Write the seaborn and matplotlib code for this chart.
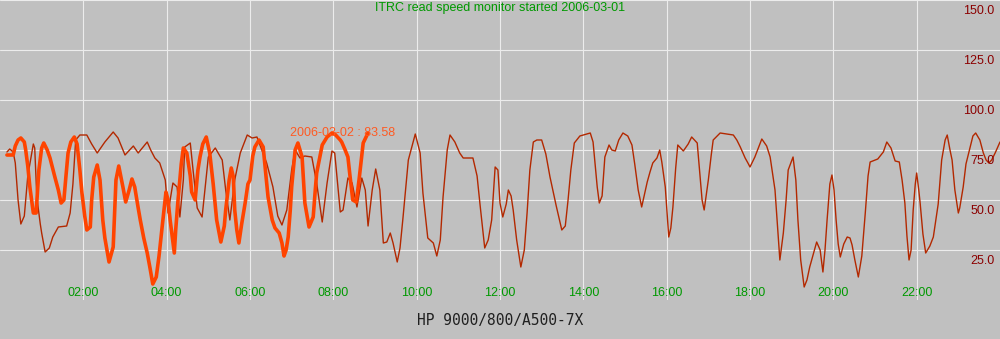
import seaborn as sns
import matplotlib.pyplot as plt
import pandas as pd

# minutes after midnight / read speed
day1_min = [10, 14, 19, 22, 26, 30, 35, 40, 48, 50, 53, 58, 60, 65, 71, 76, 84, 96, 101, 105,
            109, 115, 125, 132, 140, 151, 163, 170, 180, 192, 199, 212, 217, 223, 230, 238, 242, 249, 255, 259,
            264, 266, 274, 278, 284, 291, 295, 300, 310, 320, 325, 331, 338, 346, 356, 363, 370, 377, 384, 393,
            400, 406, 413, 420, 425, 432, 439, 449, 456, 464, 471, 478, 482, 490, 494, 501, 507, 514, 521, 526,
            530, 536, 541, 547, 552, 557, 562, 566, 572, 576, 580, 588, 598, 605, 609, 616, 624, 629, 634, 638,
            644, 648, 655, 662, 667, 681, 687, 691, 698, 703, 708, 713, 717, 720, 724, 729, 732, 736, 739, 744,
            750, 755, 759, 763, 768, 773, 780, 786, 792, 801, 809, 814, 818, 822, 827, 835, 850, 854, 860, 863,
            867, 871, 877, 881, 886, 891, 897, 904, 910, 914, 919, 924, 932, 936, 940, 946, 950, 953, 958, 963,
            966, 969, 973, 976, 984, 991, 996, 1004, 1008, 1011, 1014, 1020, 1024, 1027, 1037, 1056, 1061, 1066, 1073, 1077,
            1080, 1087, 1097, 1104, 1109, 1113, 1116, 1120, 1123, 1128, 1132, 1135, 1142, 1146, 1149, 1153, 1158, 1162, 1166, 1172,
            1176, 1181, 1185, 1188, 1191, 1195, 1198, 1201, 1204, 1207, 1210, 1215, 1220, 1224, 1227, 1231, 1236, 1241, 1246, 1250,
            1253, 1264, 1272, 1277, 1283, 1289, 1295, 1299, 1303, 1306, 1309, 1312, 1315, 1318, 1320, 1323, 1325, 1329, 1333, 1339,
            1344, 1351, 1356, 1361, 1364, 1368, 1371, 1375, 1380, 1382, 1387, 1391, 1397, 1401, 1405, 1411, 1416, 1420, 1424, 1428,
            1433, 1440]
day1_speed = [74, 75.5, 74, 68.5, 50, 38, 42, 62, 78, 76, 51.5, 38, 33.5, 24, 26, 31.5, 36.5, 37, 43.5, 58,
              80, 82.5, 82.5, 78, 73.5, 79, 84, 81, 72.5, 77, 73.5, 79, 75, 71, 68.5, 60, 43.5, 58.5, 56.5, 41.5,
              60, 76.5, 78.5, 65, 46, 41.5, 55, 71.5, 76, 70, 55, 40, 60, 73.5, 82.5, 81, 81.5, 75, 68.5, 56.5,
              42, 37.5, 45, 65, 75, 71, 72, 71.5, 58.5, 39, 58.5, 74.5, 73.5, 44, 45, 61, 58.5, 46.5, 61, 55,
              37, 55, 65.5, 55, 28.5, 29, 33.5, 28.5, 19, 26, 40, 70, 83, 73.5, 53.5, 31, 28.5, 22, 30, 51.5,
              75, 82.5, 79, 73.5, 71, 71, 62, 48.5, 26, 30, 40, 66.5, 65, 48.5, 41.5, 48, 55, 52, 45, 30,
              16.5, 25, 43.5, 65, 79, 80, 80, 73, 61.5, 47, 35, 37, 50, 65, 78.5, 82, 83.5, 79, 56.5, 48.5,
              52, 71.5, 77.5, 75, 74.5, 80, 83.5, 82, 77.5, 68, 55, 46.5, 59, 64, 68.5, 71, 75, 69, 56.5, 31.5,
              36, 46.5, 66, 77.5, 74.5, 78, 81.5, 78.5, 62, 50, 45, 60, 72, 80, 83.5, 82.5, 80, 76.5, 71, 68.5,
              66.5, 71.5, 80.5, 77, 71.5, 62, 55, 35, 20, 33.5, 50, 65, 71.5, 60, 40, 20, 6.5, 10, 16.5, 24,
              29, 25, 14, 25, 40, 58, 62.5, 55, 40, 28, 21.5, 28, 31.5, 31, 27.5, 20, 11.5, 22, 43.5, 62,
              69, 70.5, 74, 79, 76, 69.5, 69, 60, 48.5, 32, 20, 25, 45, 58, 63.5, 55, 48.5, 33, 23.5, 27,
              31.5, 48, 70, 80, 82.5, 75, 70, 55, 43.5, 46, 56.5, 68, 76.5, 82, 83.5, 80, 73.5, 70, 68.5, 70,
              73.5, 79]

day2_min = [10, 19, 22, 26, 30, 35, 37, 40, 43, 48, 52, 56, 60, 63, 68, 72, 79, 84, 88, 92,
            95, 98, 102, 107, 111, 115, 118, 122, 125, 130, 132, 135, 140, 144, 148, 151, 154, 157, 163, 167,
            171, 177, 181, 186, 190, 194, 199, 202, 207, 212, 216, 220, 225, 229, 233, 239, 242, 245, 251, 253,
            256, 261, 264, 269, 274, 276, 281, 285, 288, 292, 297, 302, 307, 312, 318, 323, 325, 330, 333, 336,
            338, 341, 344, 348, 353, 357, 360, 364, 367, 373, 379, 383, 386, 392, 396, 402, 406, 409, 412, 415,
            418, 420, 425, 429, 435, 439, 445, 451, 454, 456, 464, 471, 478, 482, 490, 492, 497, 501, 504, 508,
            513, 517, 523, 530]
day2_speed = [72.5, 72.5, 77, 80, 81, 79, 75, 67, 56.5, 43.5, 43.5, 65, 76, 78.5, 75, 71, 61.5, 55, 48.5, 50,
              62, 73.5, 79, 81.5, 78, 65, 53.5, 42, 35, 36.5, 50, 61.5, 67.5, 60, 40, 31, 25, 19, 26.5, 60,
              67, 56.5, 49, 55, 60.5, 56.5, 46, 40, 31, 23.5, 16, 8, 11.5, 22, 35, 54, 50, 40, 23.5, 35,
              48.5, 68, 76, 73.5, 62, 54, 50, 65, 71.5, 78, 81.5, 73.5, 58, 40, 29, 37, 45, 60, 66, 61.5,
              45, 35, 28.5, 38, 48.5, 58, 60, 72, 76.5, 80, 76.5, 62, 51.5, 40, 36, 33.5, 28.5, 22, 25, 31.5,
              45, 56.5, 75, 78.5, 71.5, 48.5, 36.5, 41.5, 55, 63.5, 77.5, 81.5, 83.5, 83, 80, 79, 75, 71.5, 62, 50,
              49, 60, 78.5, 83.58]

hour_ticks = list(range(2, 24, 2))
speed_ticks = [25, 50, 75, 100, 125, 150]
title = "ITRC read speed monitor started 2006-03-01"
host = "HP 9000/800/A500-7X"
day2_label = "2006-03-02"

d1 = pd.DataFrame({"hour": [m / 60 for m in day1_min], "speed": day1_speed})
d2 = pd.DataFrame({"hour": [m / 60 for m in day2_min], "speed": day2_speed})

sns.set_style("whitegrid", {"axes.facecolor": "#c0c0c0", "grid.color": "white"})
plt.rcParams["font.family"] = ["Liberation Sans", "DejaVu Sans"]

fig = plt.figure(figsize=(10, 3.39), dpi=100, facecolor="#c0c0c0")
ax = fig.add_axes([0, 39 / 339, 1, 300 / 339])
ax.set_axisbelow(True)

sns.lineplot(data=d1, x="hour", y="speed", ax=ax, color="#b32800", lw=1.0)
sns.lineplot(data=d2, x="hour", y="speed", ax=ax, color="#ff4400", lw=2.6)

ax.set_xlim(0, 24)
ax.set_ylim(0, 150)
ax.grid(True, color="#ececec", lw=0.8)
for s in ax.spines.values():
    s.set_visible(False)

ax.set_xticks(hour_ticks)
ax.set_xticklabels([f"{h:02d}:00" for h in hour_ticks])
ax.tick_params(axis="x", direction="in", length=0, pad=-1, labelsize=9, labelcolor="#009900")
for lbl in ax.get_xticklabels():
    lbl.set_verticalalignment("bottom")

ax.set_yticks(speed_ticks)
ax.set_yticklabels([])
ax.tick_params(axis="y", length=0)
for v in speed_ticks:
    ax.annotate(f"{v:.1f}", xy=(1, v), xycoords=("axes fraction", "data"),
                xytext=(-4, -3.5), textcoords="offset points",
                ha="right", va="top", fontsize=9, color="#8b0000")

ax.set_xlabel("")
ax.set_ylabel("")

ax.annotate(f"{day2_label} : {day2_speed[-1]:.2f}", xy=(d2["hour"].iloc[-1], day2_speed[-1]),
            xytext=(-18, 0), textcoords="offset points", ha="center", va="center",
            fontsize=9, color="#ff5a22")

fig.text(0.5, 1 - 8 / 339, title, ha="center", va="center", fontsize=9, color="#009900")
fig.text(0.5, 1 - 320 / 339, host, ha="center", va="center", fontsize=10.5,
         family="DejaVu Sans Mono", color="#202020")

fig.savefig("out.png", dpi=100, facecolor=fig.get_facecolor())
